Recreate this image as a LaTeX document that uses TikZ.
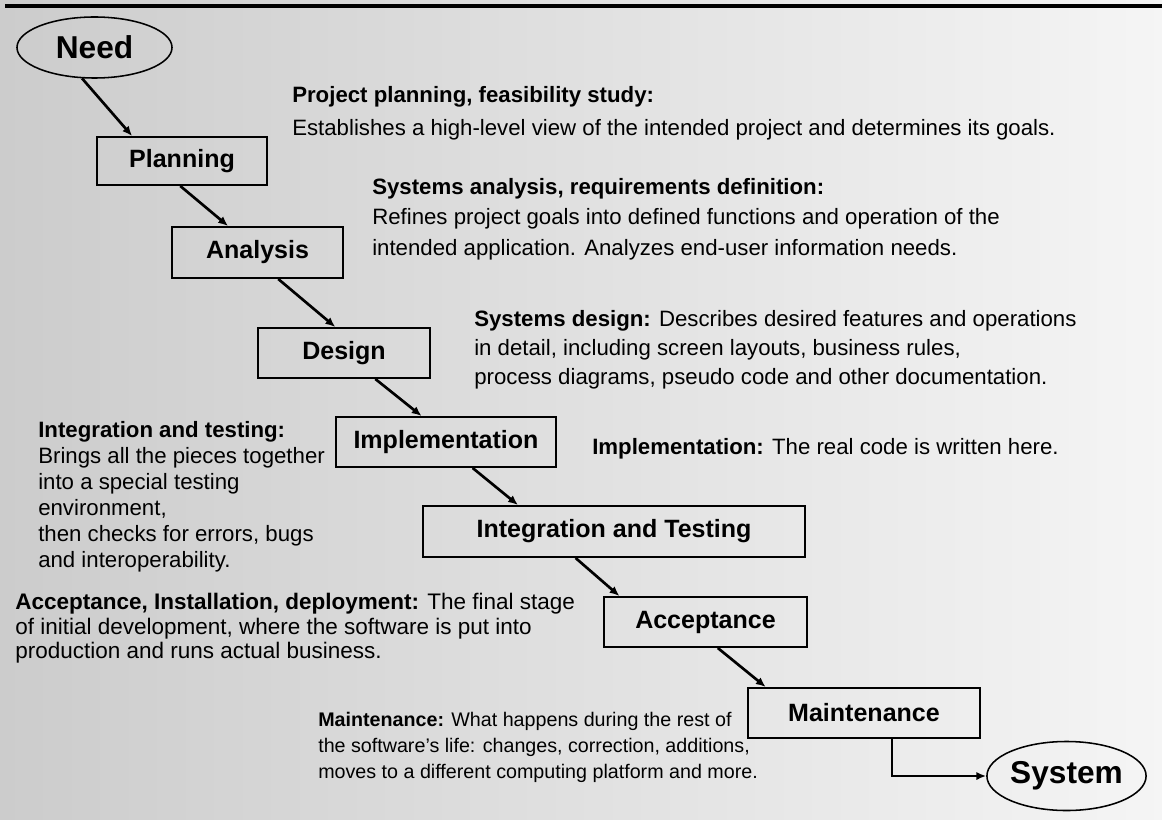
\documentclass[tikz,border=0pt]{standalone}
\usepackage{fontspec}
\setmainfont{Liberation Sans}
\usetikzlibrary{calc,shapes.geometric,arrows.meta}

\tikzset{
  phase/.style={draw, line width=1.4pt, minimum height=1.25cm, inner sep=0pt,
    font=\fontsize{17.8}{20}\selectfont\bfseries},
  endpoint/.style={ellipse, draw, line width=1.1pt, inner sep=0pt,
    font=\fontsize{22.5}{26}\selectfont\bfseries},
  note/.style={anchor=north west, align=left, inner sep=0pt},
  flow/.style={line width=1.9pt, -{Latex[length=7pt,width=6pt]}}
}

\begin{document}
\begin{tikzpicture}[x=0.025cm, y=-0.025cm]
  %%%%% BACKGROUND %%%%%
  \shade[left color=black!20, right color=black!4] (0,0) rectangle (1162,820);
  \fill[black] (5,4) rectangle (1162,8);
  \useasboundingbox (0,0) rectangle (1162,820);

  %%%%% PHASES %%%%%
  \node[endpoint, minimum width=3.875cm, minimum height=1.525cm] (need) at (94.5,47.5) {Need};
  \node[phase, minimum width=4.25cm, minimum height=1.2cm] (plan) at (182,161) {Planning};
  \node[phase, minimum width=4.275cm, minimum height=1.275cm] (ana) at (257.5,252.5) {Analysis};
  \node[phase, minimum width=4.3cm] (des) at (344,353) {Design};
  \node[phase, minimum width=5.5cm] (impl) at (446,442) {Implementation};
  \node[phase, minimum width=9.55cm, minimum height=1.275cm] (integ) at (614,531.5) {Integration and Testing};
  \node[phase, minimum width=5.075cm] (acc) at (705.5,622) {Acceptance};
  \node[phase, minimum width=5.8cm] (maint) at (864,713) {Maintenance};
  \node[endpoint, minimum width=3.875cm, minimum height=1.725cm] (sys) at (1066.5,776) {System};

  \draw[flow] (need.-112) -- ($(plan.north west)!.21!(plan.north east)$);
  \draw[flow] ($(plan.south west)!.49!(plan.south east)$) -- ($(ana.north west)!.33!(ana.north east)$);
  \draw[flow] ($(ana.south west)!.62!(ana.south east)$) -- ($(des.north west)!.45!(des.north east)$);
  \draw[flow] ($(des.south west)!.68!(des.south east)$) -- ($(impl.north west)!.39!(impl.north east)$);
  \draw[flow] ($(impl.south west)!.62!(impl.south east)$) -- ($(integ.north west)!.25!(integ.north east)$);
  \draw[flow] ($(integ.south west)!.40!(integ.south east)$) -- ($(acc.north west)!.08!(acc.north east)$);
  \draw[flow] ($(acc.south west)!.56!(acc.south east)$) -- ($(maint.north west)!.08!(maint.north east)$);
  \draw[flow] ($(maint.south west)!.62!(maint.south east)$) |- (sys.west);

  %%%%% NOTES %%%%%
  \node[note, font=\fontsize{15.8}{23.5}\selectfont] (plannote) at (292,86)
    {\textbf{Project planning, feasibility study:}\\
    Establishes a high-level view of the intended project and determines its goals.};
  \node[note, font=\fontsize{15.8}{21.7}\selectfont] (ananote) at (372,178)
    {\textbf{Systems analysis, requirements definition:}\\
    Refines project goals into defined functions and operation of the\\
    intended application. Analyzes end-user information needs.};
  \node[note, font=\fontsize{15.8}{20.6}\selectfont] (desnote) at (474,310)
    {\textbf{Systems design:} Describes desired features and operations\\
    in detail, including screen layouts, business rules,\\
    process diagrams, pseudo code and other documentation.};
  \node[note, font=\fontsize{15.8}{18.5}\selectfont] (implnote) at (592,438)
    {\textbf{Implementation:} The real code is written here.};
  \node[note, font=\fontsize{15.8}{18.5}\selectfont] (integnote) at (38,421)
    {\textbf{Integration and testing:}\\
    Brings all the pieces together\\
    into a special testing\\
    environment,\\
    then checks for errors, bugs\\
    and interoperability.};
  \node[note, font=\fontsize{16}{17.4}\selectfont] (accnote) at (15,593)
    {\textbf{Acceptance, Installation, deployment:} The final stage\\
    of initial development, where the software is put into\\
    production and runs actual business.};
  \node[note, font=\fontsize{14}{18.5}\selectfont] (maintnote) at (318,712)
    {\textbf{Maintenance:} What happens during the rest of\\
    the software's life: changes, correction, additions,\\
    moves to a different computing platform and more.};
\end{tikzpicture}
\end{document}
